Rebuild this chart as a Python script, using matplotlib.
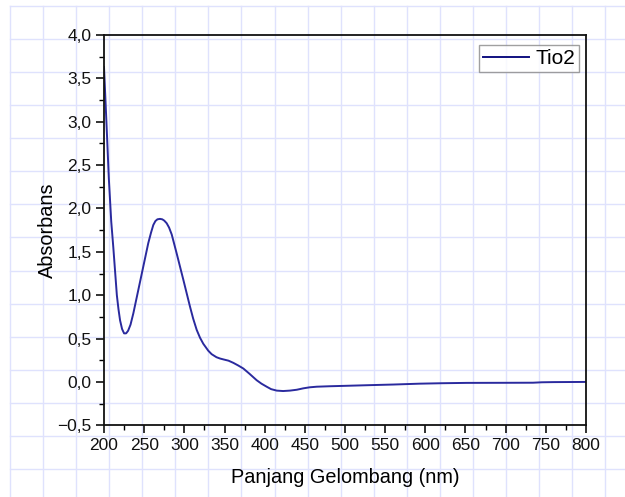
import numpy as np
import matplotlib
matplotlib.use("Agg")
import matplotlib.pyplot as plt
from matplotlib.ticker import MultipleLocator, FuncFormatter

plt.rcParams['font.family'] = ['Liberation Sans', 'DejaVu Sans']

# data
panjang_gelombang = [200, 203, 206, 209, 211.6, 214, 216, 218, 220, 222.5, 225, 227.5,
                     230, 233, 236.5, 242.7, 248.9, 255.1, 258.5, 261.4, 264, 266.5,
                     269.7, 272.5, 275, 278, 281, 284.3, 290.5, 298.7, 307, 311,
                     315.4, 319.5, 323.6, 329.8, 334, 340, 344.4, 348.5, 355, 361,
                     367, 373.4, 381, 390, 396, 402.5, 408, 415, 423, 431.5, 440,
                     448, 456, 464.8, 480, 500, 527, 560, 593, 620, 651.5, 700,
                     734, 745, 760, 780, 800]
absorbans = [3.63, 3.00, 2.35, 1.85, 1.55, 1.25, 1.00, 0.84, 0.71, 0.61, 0.56, 0.56,
             0.59, 0.66, 0.79, 1.06, 1.33, 1.60, 1.72, 1.81, 1.855, 1.875,
             1.88, 1.875, 1.86, 1.83, 1.78, 1.70, 1.48, 1.18, 0.87, 0.73,
             0.60, 0.51, 0.44, 0.36, 0.32, 0.285, 0.27, 0.26, 0.245, 0.22,
             0.19, 0.155, 0.095, 0.02, -0.02, -0.055, -0.083, -0.10, -0.105, -0.10, -0.09,
             -0.074, -0.062, -0.055, -0.050, -0.045, -0.038, -0.030, -0.020, -0.015, -0.011, -0.010,
             -0.009, -0.004, -0.002, -0.001, 0.0]
nama_seri = "Tio2"

W, H = 625, 497
fig = plt.figure(figsize=(W / 100, H / 100), dpi=100)

# page grid behind everything (Origin style)
bg = fig.add_axes([0, 0, 1, 1], zorder=0)
bg.set_xlim(0, W)
bg.set_ylim(H, 0)
grid_c = '#dfe2fd'
for gx in np.arange(10, W, 33.07):
    bg.plot([gx, gx], [6, H], color=grid_c, lw=1.0)
for gy in np.arange(6, H, 33.07):
    bg.plot([10, W], [gy, gy], color=grid_c, lw=1.0)
bg.axis('off')

# main plot area
ax = fig.add_axes([104 / W, 1 - 425.3 / H, (586 - 104) / W, (425.3 - 35) / H], zorder=1)
ax.set_facecolor('none')
ax.plot(panjang_gelombang, absorbans, color='#2a2a9e', lw=1.4, label=nama_seri)

ax.set_xlim(200, 800)
ax.set_ylim(-0.5, 4.0)
ax.xaxis.set_major_locator(MultipleLocator(50))
ax.xaxis.set_minor_locator(MultipleLocator(25))
ax.yaxis.set_major_locator(MultipleLocator(0.5))
ax.yaxis.set_minor_locator(MultipleLocator(0.25))

def koma(v, pos):
    s = f"{v:.1f}".replace('.', ',')
    return s.replace('-', '\u2212')

ax.yaxis.set_major_formatter(FuncFormatter(koma))
ax.tick_params(which='major', direction='out', length=6, width=1.2, labelsize=12.5,
               colors='#111111', pad=3)
ax.tick_params(which='minor', direction='out', length=3.5, width=1.0)
ax.tick_params(top=False, right=False, which='both')
for sp in ax.spines.values():
    sp.set_linewidth(1.3)
    sp.set_color('#111111')

ax.set_xlabel('Panjang Gelombang (nm)', fontsize=14.3, labelpad=11)
ax.set_ylabel('Absorbans', fontsize=14.3, labelpad=0)

leg = ax.legend(loc='upper right', fontsize=15, frameon=True, fancybox=False,
                handlelength=2.2, handletextpad=0.3, borderpad=0.2,
                borderaxespad=0, bbox_to_anchor=(0.9855, 0.974))
leg.get_frame().set_edgecolor('#888888')
leg.get_frame().set_linewidth(1.0)
leg.get_lines()[0].set_color('#101080')

fig.savefig('out.png', dpi=100)
